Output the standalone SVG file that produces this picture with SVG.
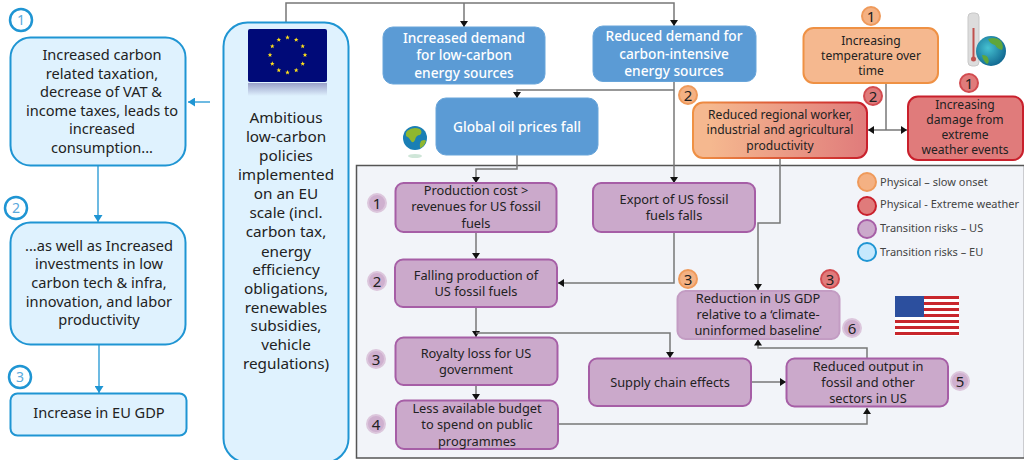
<svg xmlns="http://www.w3.org/2000/svg" width="1024" height="460" viewBox="0 0 1024 460">
<style>
text{font-family:"Noto Sans","Liberation Sans",sans-serif;text-anchor:middle;fill:#222}
.lb .f{fill:#dff2fe;stroke:#1f95d3;stroke-width:2}
.lb text{font-size:14.6px}
.bl rect{fill:#5b9bd5;stroke:#68a5da;stroke-width:1}
.bl text{font-size:13.7px;fill:#fff;font-weight:500}
.pu rect{fill:#cba9cb;stroke:#a65ea6;stroke-width:2}
.pu text{font-size:12.8px}
.or rect{stroke-width:2}
.or text{font-size:12.1px}
.bd circle{stroke-width:2}
.bd text{font-size:15px}
.b1 circle{fill:#fff;stroke:#1f95d3;stroke-width:2.5}
.bd .b1 text{fill:#5aa9dc;font-size:14px}
.bp circle{fill:#cfb0cf;stroke:#dcc6dc}
.bo circle{fill:#f4b183;stroke:#ef9a5b}
.br circle{fill:#e07b7b;stroke:#d24b50}
.lg text{font-size:11px;text-anchor:start;fill:#444}
.c{fill:none;stroke:#777;stroke-width:1.5}
.cb{fill:none;stroke:#1f95d3;stroke-width:1.3}
</style>
<defs>
<marker id="a" markerUnits="userSpaceOnUse" markerWidth="8" markerHeight="8" refX="7" refY="4" orient="auto"><path d="M1 0L7 4L1 8z" fill="#111"/></marker>
<marker id="ab" markerUnits="userSpaceOnUse" markerWidth="9" markerHeight="9" refX="8" refY="4.5" orient="auto"><path d="M1 0L8 4.5L1 9z" fill="#1f95d3"/></marker>
<linearGradient id="og" x1="0" x2="1" y1="0" y2="0"><stop offset="0.1" stop-color="#f5b88f"/><stop offset="1" stop-color="#e07b7b"/></linearGradient>
<linearGradient id="os" x1="0" x2="1" y1="0" y2="0"><stop offset="0" stop-color="#ef9144"/><stop offset="1" stop-color="#c9202c"/></linearGradient>
<linearGradient id="rf" x1="0" x2="0" y1="0" y2="1"><stop offset="0" stop-color="#9aa0c8"/><stop offset="1" stop-color="#dff2fe"/></linearGradient>
<radialGradient id="gl" cx="0.4" cy="0.4" r="0.7"><stop offset="0" stop-color="#46c2d2"/><stop offset="1" stop-color="#0b5f8a"/></radialGradient>
<polygon id="s" points="0,-2.400 0.700,-0.750 2.300,-0.750 1,0.300 1.450,1.950 0,1 -1.450,1.950 -1,0.300 -2.300,-0.750 -0.700,-0.750" fill="#ffe11a"/>
</defs>

<g id="panel"><rect x="356.500" y="165.500" width="668" height="292.500" fill="#f2f4f9" stroke="#555" stroke-width="1.500"/></g>

<g id="connectors">
<path class="cb" d="M210 102H188" marker-end="url(#ab)"/>
<path class="cb" d="M98 166V222" marker-end="url(#ab)"/>
<path class="cb" d="M99 345V393" marker-end="url(#ab)"/>
<path class="c" d="M286 22V3H674V26" marker-end="url(#a)"/>
<path class="c" d="M464 3V27" marker-end="url(#a)"/>
<path class="c" d="M674 82V183" marker-end="url(#a)"/>
<path class="c" d="M674 90H517V98" marker-end="url(#a)"/>
<path class="c" d="M517 155V169H476V183" marker-end="url(#a)"/>
<path class="c" d="M886 83V130"/>
<path class="c" d="M886 130H868" marker-end="url(#a)"/>
<path class="c" d="M886 130H907" marker-end="url(#a)"/>
<path class="c" d="M780 158V223H758V290" marker-end="url(#a)"/>
<path class="c" d="M674 232V283H558" marker-end="url(#a)"/>
<path class="c" d="M476 232V259" marker-end="url(#a)"/>
<path class="c" d="M476 307V337" marker-end="url(#a)"/>
<path class="c" d="M476 333H670V358" marker-end="url(#a)"/>
<path class="c" d="M476 385V400" marker-end="url(#a)"/>
<path class="c" d="M558 424H867V408" marker-end="url(#a)"/>
<path class="c" d="M751 382H786" marker-end="url(#a)"/>
<path class="c" d="M867 358V348H758V339.500" marker-end="url(#a)"/>
</g>

<g id="eu1" class="lb"><rect class="f" x="10.500" y="37.500" width="175" height="128" rx="20"/><text><tspan x="102" y="60">Increased carbon</tspan><tspan x="102" y="78.500">related taxation,</tspan><tspan x="101" y="97">decrease of VAT &amp;</tspan><tspan x="102" y="116">income taxes, leads to</tspan><tspan x="102" y="134">increased</tspan><tspan x="102" y="153">consumption...</tspan></text></g>
<g id="eu2" class="lb"><rect class="f" x="10.500" y="222.500" width="175" height="122" rx="20"/><text><tspan x="99" y="251">...as well as Increased</tspan><tspan x="99" y="269">investments in low</tspan><tspan x="99" y="288">carbon tech &amp; infra,</tspan><tspan x="99" y="306.500">innovation, and labor</tspan><tspan x="99" y="325">productivity</tspan></text></g>
<g id="eu3" class="lb"><rect class="f" x="10.500" y="393.500" width="176" height="42" rx="7"/><text x="99" y="418">Increase in EU GDP</text></g>

<g id="policy" class="lb"><rect class="f" x="223.500" y="22.500" width="125" height="440" rx="24"/>
<rect x="248" y="29" width="79" height="53" rx="2" fill="#000a78"/>
<rect x="248" y="83" width="79" height="13" fill="url(#rf)"/>
<g transform="translate(287.500 55)">
<use href="#s" x="0" y="-17.500"/><use href="#s" x="8.700" y="-15.200"/><use href="#s" x="15.200" y="-8.700"/><use href="#s" x="17.500" y="0"/><use href="#s" x="15.200" y="8.700"/><use href="#s" x="8.700" y="15.200"/><use href="#s" x="0" y="17.500"/><use href="#s" x="-8.700" y="15.200"/><use href="#s" x="-15.200" y="8.700"/><use href="#s" x="-17.500" y="0"/><use href="#s" x="-15.200" y="-8.700"/><use href="#s" x="-8.700" y="-15.200"/>
</g>
<text style="font-size:15.300px"><tspan x="286" y="123">Ambitious</tspan><tspan x="286" y="142">low-carbon</tspan><tspan x="286" y="161">policies</tspan><tspan x="286" y="180">implemented</tspan><tspan x="286" y="199">on an EU</tspan><tspan x="286" y="218">scale (incl.</tspan><tspan x="286" y="237">carbon tax,</tspan><tspan x="286" y="257">energy</tspan><tspan x="286" y="275">efficiency</tspan><tspan x="286" y="294">obligations,</tspan><tspan x="286" y="313">renewables</tspan><tspan x="286" y="331">subsidies,</tspan><tspan x="286" y="350">vehicle</tspan><tspan x="286" y="369">regulations)</tspan></text></g>

<g id="demand-low" class="bl"><rect x="383" y="27" width="162" height="57" rx="10"/><text><tspan x="464" y="43">Increased demand</tspan><tspan x="464" y="60">for low-carbon</tspan><tspan x="464" y="78">energy sources</tspan></text></g>
<g id="demand-high" class="bl"><rect x="593" y="26" width="163" height="55.500" rx="10"/><text><tspan x="674" y="41">Reduced demand for</tspan><tspan x="674" y="59">carbon-intensive</tspan><tspan x="674" y="76">energy sources</tspan></text></g>
<g id="oil" class="bl"><rect x="436" y="98" width="162" height="57" rx="10"/><text x="517" y="132">Global oil prices fall</text></g>

<g id="temp" class="or"><rect x="803.500" y="28" width="134.500" height="55" rx="10" fill="#f5b88f" stroke="#ef9144"/><text><tspan x="871" y="45">Increasing</tspan><tspan x="871" y="60">temperature over</tspan><tspan x="871" y="75">time</tspan></text></g>
<g id="regional" class="or"><rect x="693" y="102.500" width="174" height="55.500" rx="10" fill="url(#og)" stroke="url(#os)"/><text><tspan x="780" y="119">Reduced regional worker,</tspan><tspan x="780" y="134">industrial and agricultural</tspan><tspan x="780" y="150">productivity</tspan></text></g>
<g id="damage" class="or"><rect x="908" y="96.500" width="115" height="63.500" rx="10" fill="#e07b7b" stroke="#c9202c"/><text><tspan x="965" y="109">Increasing</tspan><tspan x="965" y="124">damage from</tspan><tspan x="965" y="139">extreme</tspan><tspan x="965" y="154">weather events</tspan></text></g>

<g id="production" class="pu"><rect x="395.500" y="183" width="161" height="49" rx="8"/><text><tspan x="476" y="195">Production cost &gt;</tspan><tspan x="476" y="211">revenues for US fossil</tspan><tspan x="476" y="228">fuels</tspan></text></g>
<g id="export" class="pu"><rect x="593" y="183" width="162" height="49" rx="8"/><text><tspan x="674" y="204">Export of US fossil</tspan><tspan x="674" y="220">fuels falls</tspan></text></g>
<g id="falling" class="pu"><rect x="395" y="259.500" width="162" height="47.500" rx="8"/><text><tspan x="476" y="280">Falling production of</tspan><tspan x="476" y="296">US fossil fuels</tspan></text></g>
<g id="royalty" class="pu"><rect x="395.500" y="337.500" width="162" height="47.500" rx="8"/><text><tspan x="476" y="358">Royalty loss for US</tspan><tspan x="476" y="374">government</tspan></text></g>
<g id="budget" class="pu"><rect x="396" y="400.500" width="162" height="48.500" rx="8"/><text><tspan x="477" y="413">Less available budget</tspan><tspan x="477" y="429">to spend on public</tspan><tspan x="477" y="446">programmes</tspan></text></g>
<g id="supply" class="pu"><rect x="589" y="358.500" width="162" height="47.500" rx="8"/><text x="670" y="387">Supply chain effects</text></g>
<g id="output" class="pu"><rect x="786.500" y="358.500" width="161.500" height="48" rx="8"/><text><tspan x="868" y="370.500">Reduced output in</tspan><tspan x="868" y="387">fossil and other</tspan><tspan x="868" y="403">sectors in US</tspan></text></g>
<g id="gdp" class="pu"><rect x="677.500" y="291" width="162" height="48" rx="8" style="stroke:#c39cc3"/><text><tspan x="758" y="303">Reduction in US GDP</tspan><tspan x="758" y="319">relative to a ‘climate-</tspan><tspan x="758" y="335">uninformed baseline’</tspan></text></g>

<g id="badges" class="bd">
<g class="b1"><circle cx="21" cy="20" r="11"/><text x="21" y="25">1</text></g>
<g class="b1"><circle cx="16" cy="208" r="11"/><text x="16" y="213">2</text></g>
<g class="b1"><circle cx="20" cy="377" r="11"/><text x="20" y="382">3</text></g>
<g class="bo"><circle cx="871" cy="16" r="9"/><text x="871" y="21.500">1</text></g>
<g class="br"><circle cx="969" cy="83" r="9"/><text x="969" y="88.500">1</text></g>
<g class="bo"><circle cx="688" cy="95" r="9"/><text x="688" y="100.500">2</text></g>
<g class="br"><circle cx="873" cy="96" r="9"/><text x="873" y="101.500">2</text></g>
<g class="bo"><circle cx="688" cy="279" r="9"/><text x="688" y="284.500">3</text></g>
<g class="br"><circle cx="830" cy="279" r="9"/><text x="830" y="284.500">3</text></g>
<g class="bp"><circle cx="377" cy="203" r="9"/><text x="377" y="208.500">1</text></g>
<g class="bp"><circle cx="377" cy="281" r="9"/><text x="377" y="286.500">2</text></g>
<g class="bp"><circle cx="376" cy="359" r="9"/><text x="376" y="364.500">3</text></g>
<g class="bp"><circle cx="376" cy="424" r="9"/><text x="376" y="429.500">4</text></g>
<g class="bp"><circle cx="960" cy="381" r="9"/><text x="960" y="386.500">5</text></g>
<g class="bp"><circle cx="852" cy="328" r="9"/><text x="852" y="333.500">6</text></g>
</g>

<g id="legend" class="lg">
<circle cx="867" cy="182" r="9" fill="#f4b183" stroke="#ef9a5b" stroke-width="2"/><text x="880" y="186">Physical – slow onset</text>
<circle cx="867" cy="206" r="9" fill="#e07b7b" stroke="#c9202c" stroke-width="2"/><text x="880" y="208">Physical - Extreme weather</text>
<circle cx="867" cy="229" r="9" fill="#cba9cb" stroke="#a65ea6" stroke-width="2"/><text x="880" y="232">Transition risks – US</text>
<circle cx="867" cy="252" r="9" fill="#c5e8fd" stroke="#1f95d3" stroke-width="2"/><text x="880" y="256">Transition risks  – EU</text>
</g>

<g id="globe-small">
<circle cx="415" cy="138" r="12" fill="#1a7fb5"/>
<path d="M407 131q6-5 13-2q3 3 0 6q-4 0-5 5q-2 4-4 1q-2-4-5-5q-1-3 1-5zM421 141q4-2 5 0q-2 6-6 7q-1-4 1-7z" fill="#8fb72f"/>
<ellipse cx="415" cy="156" rx="7" ry="2" fill="#cfe6d8"/>
</g>
<g id="thermo-globe">
<rect x="968" y="13" width="11" height="53" rx="4" fill="#dcdcdc" stroke="#c8c8c8"/>
<rect x="972.500" y="28" width="2" height="30" fill="#c0504d"/>
<circle cx="973.500" cy="59" r="2.500" fill="#c0504d"/>
<circle cx="991" cy="51" r="15" fill="url(#gl)"/>
<path d="M988 39q8-3 13 2q3 5 1 9q-5-1-7-5q-5-1-7-6zM982 55q5 0 6 3q2 4-1 6q-4-3-5-9z" fill="#5fa63a"/>
</g>
<g id="us-flag">
<rect x="895" y="296" width="64" height="40" fill="#fff"/>
<path d="M924 297.500H959M924 303.500H959M924 309.500H959M924 315.500H959M895 321.500H959M895 327.500H959M895 333.500H959" stroke="#c8262c" stroke-width="3"/>
<rect x="895" y="296" width="29" height="21" fill="#2c4f9e"/>
</g>
</svg>
